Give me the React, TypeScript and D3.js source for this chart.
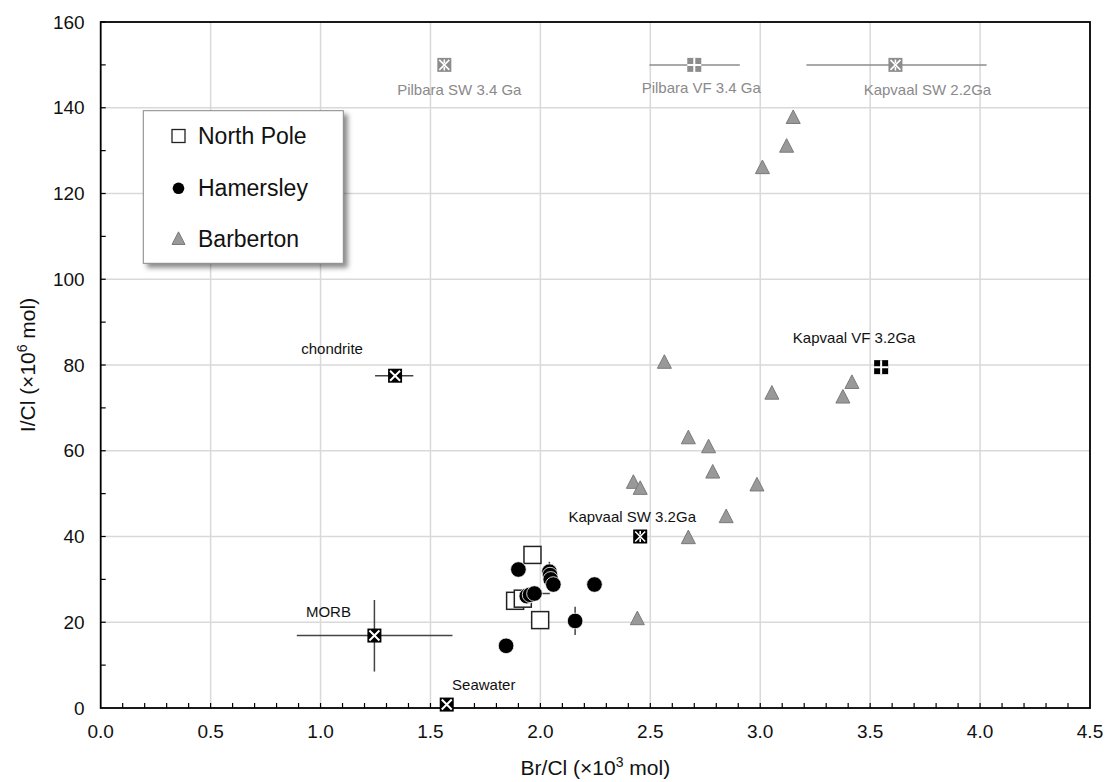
import React from "react";
import * as d3 from "d3";

// ---- Data ----
const northPoleX = [1.964, 1.885, 1.92, 1.999];
const northPoleY = [35.7, 25.0, 25.5, 20.5];

const hamersleyX = [1.9, 2.041, 2.044, 2.047, 2.059, 2.246, 1.938, 1.953, 1.973, 2.158, 1.844];
const hamersleyY = [32.3, 31.8, 31.0, 30.0, 28.8, 28.8, 26.1, 26.4, 26.7, 20.3, 14.5];
const hamersleyXErr = [0, 0, 0, 0, 0, 0, 0, 0, 0.07, 0, 0];
const hamersleyYErr = [0, 2.3, 0, 0, 0, 0, 0, 0, 0, 3.3, 0];

const barbertonX = [3.15, 3.12, 3.01, 2.564, 3.053, 3.417, 3.376, 2.673, 2.765, 2.784, 2.985, 2.423, 2.454, 2.845, 2.673, 2.441];
const barbertonY = [137.7, 131.0, 126.0, 80.6, 73.4, 75.9, 72.5, 63.0, 60.9, 55.0, 52.0, 52.6, 51.2, 44.6, 39.7, 20.8];

const refNames = ["Seawater", "MORB", "chondrite", "Kapvaal SW 3.2Ga", "Kapvaal VF 3.2Ga", "Pilbara SW 3.4 Ga", "Pilbara VF 3.4 Ga", "Kapvaal SW 2.2Ga"];
const refX = [1.574, 1.245, 1.339, 2.454, 3.55, 1.563, 2.7, 3.615];
const refY = [0.8, 16.9, 77.5, 40.0, 79.5, 150, 150, 150];
const refXLo = [null, 0.892, 1.248, null, null, null, 2.496, 3.21];
const refXHi = [null, 1.6, 1.422, null, null, null, 2.907, 4.03];
const refYLo = [null, 8.5, null, null, null, null, null, null];
const refYHi = [null, 25.2, null, null, null, null, null, null];
const refShape = ["x", "x", "x", "star", "grid", "star", "grid", "star"];
const refGray = [false, false, false, false, false, true, true, true];

const xTicks = [0, 0.5, 1.0, 1.5, 2.0, 2.5, 3.0, 3.5, 4.0, 4.5];
const yTicks = [0, 20, 40, 60, 80, 100, 120, 140, 160];
const legendItems = ["North Pole", "Hamersley", "Barberton"];

// ---- Layout (styles) ----
const W = 1109, H = 782;
const M = { left: 100.7, right: 1090, top: 22, bottom: 708 };
const labelOffsets: [number, number][] = [
  [37, -20], [-46, -24], [-63, -27], [-8, -20], [-27, -30], [15, 25], [7, 23], [32, 25],
];

const FONT = "'Liberation Sans', Arial, Helvetica, sans-serif";

export default function App() {
  const x = d3.scaleLinear().domain([0, 4.5]).range([M.left, M.right]);
  const y = d3.scaleLinear().domain([0, 160]).range([M.bottom, M.top]);

  const minorX = d3.range(0, 45).map((i) => i / 10);
  const minorY = d3.range(0, 17).map((i) => i * 10);

  const tri = (cx: number, cy: number, s: number) =>
    `M${cx},${cy - s * 0.55} L${cx + s / 2},${cy + s * 0.42} L${cx - s / 2},${cy + s * 0.42} Z`;

  const refMarker = (i: number) => {
    const cx = x(refX[i]);
    const cy = y(refY[i]);
    const s = 14;
    const h = s / 2;
    const fill = refGray[i] ? "#8c8c8c" : "#000";
    const shape = refShape[i];
    return (
      <g key={"rm" + i}>
        <rect x={cx - h} y={cy - h} width={s} height={s} fill={fill} />
        {shape === "x" && (
          <path d={`M${cx - h + 2},${cy - h + 2} L${cx + h - 2},${cy + h - 2} M${cx + h - 2},${cy - h + 2} L${cx - h + 2},${cy + h - 2}`} stroke="#fff" strokeWidth={2} />
        )}
        {shape === "star" && (
          <g stroke="#fff" strokeWidth={1.6}>
            <path d={`M${cx - h + 2},${cy - h + 2} L${cx + h - 2},${cy + h - 2} M${cx + h - 2},${cy - h + 2} L${cx - h + 2},${cy + h - 2}`} />
            <path d={`M${cx},${cy - h + 1.5} L${cx},${cy - 2} M${cx},${cy + 2} L${cx},${cy + h - 1.5}`} />
          </g>
        )}
        {shape === "grid" && (
          <path d={`M${cx},${cy - h} L${cx},${cy + h} M${cx - h},${cy} L${cx + h},${cy}`} stroke="#fff" strokeWidth={2} />
        )}
      </g>
    );
  };

  return (
    <svg width={W} height={H} style={{ display: "block", position: "absolute", left: 0, top: 0 }} fontFamily={FONT}>
      <defs>
        <filter id="shadow" x="-10%" y="-10%" width="130%" height="130%">
          <feDropShadow dx="4" dy="4" stdDeviation="2.5" floodColor="#000" floodOpacity="0.45" />
        </filter>
      </defs>
      <rect x={0} y={0} width={W} height={H} fill="#fff" />

      {/* gridlines */}
      <g stroke="#d9d9d9" strokeWidth={1.5}>
        {xTicks.slice(1, -1).map((t) => (
          <line key={"gx" + t} x1={x(t)} x2={x(t)} y1={M.top} y2={M.bottom} />
        ))}
        {yTicks.slice(1, -1).map((t) => (
          <line key={"gy" + t} x1={M.left} x2={M.right} y1={y(t)} y2={y(t)} />
        ))}
      </g>

      {/* minor ticks */}
      <g stroke="#000" strokeWidth={1.2}>
        {minorX.slice(1).map((t) => (
          <line key={"mx" + t} x1={x(t)} x2={x(t)} y1={M.bottom} y2={M.bottom - 5} />
        ))}
        {minorY.slice(1).map((t) => (
          <line key={"my" + t} x1={M.left} x2={M.left + 5} y1={y(t)} y2={y(t)} />
        ))}
      </g>

      {/* frame */}
      <rect x={M.left} y={M.top} width={M.right - M.left} height={M.bottom - M.top} fill="none" stroke="#000" strokeWidth={1.8} />

      {/* tick labels */}
      <g fontSize={19} fill="#111">
        {xTicks.map((t) => (
          <text key={"tx" + t} x={x(t)} y={M.bottom + 30} textAnchor="middle">
            {t.toFixed(1)}
          </text>
        ))}
        {yTicks.map((t) => (
          <text key={"ty" + t} x={M.left - 16} y={y(t)} textAnchor="end" dominantBaseline="central">
            {t}
          </text>
        ))}
      </g>

      {/* axis titles */}
      <text x={(M.left + M.right) / 2} y={775} textAnchor="middle" fontSize={21} fill="#111">
        Br/Cl (×10<tspan dy={-8} fontSize={14}>3</tspan>
        <tspan dy={8}> mol)</tspan>
      </text>
      <text transform={`translate(35,${(M.top + M.bottom) / 2}) rotate(-90)`} textAnchor="middle" fontSize={21} fill="#111">
        I/Cl (×10<tspan dy={-8} fontSize={14}>6</tspan>
        <tspan dy={8}> mol)</tspan>
      </text>

      {/* reference error bars */}
      {refNames.map((n, i) => {
        const col = refGray[i] ? "#8c8c8c" : "#444";
        return (
          <g key={"re" + i} stroke={col} strokeWidth={1.5}>
            {refXLo[i] != null && (
              <line x1={x(refXLo[i] as number)} x2={x(refXHi[i] as number)} y1={y(refY[i])} y2={y(refY[i])} />
            )}
            {refYLo[i] != null && (
              <line x1={x(refX[i])} x2={x(refX[i])} y1={y(refYLo[i] as number)} y2={y(refYHi[i] as number)} />
            )}
          </g>
        );
      })}

      {/* Barberton */}
      <g fill="#999" stroke="#7a7a7a" strokeWidth={1}>
        {barbertonX.map((v, i) => (
          <path key={"b" + i} d={tri(x(v), y(barbertonY[i]), 14)} />
        ))}
      </g>

      {/* North Pole */}
      <g fill="#fff" stroke="#222" strokeWidth={1.5}>
        {northPoleX.map((v, i) => (
          <rect key={"np" + i} x={x(v) - 8.5} y={y(northPoleY[i]) - 8.5} width={17} height={17} />
        ))}
      </g>

      {/* Hamersley error bars + points */}
      <g stroke="#444" strokeWidth={1.5}>
        {hamersleyX.map((v, i) => (
          <g key={"he" + i}>
            {hamersleyXErr[i] > 0 && (
              <line x1={x(v - hamersleyXErr[i])} x2={x(v + hamersleyXErr[i])} y1={y(hamersleyY[i])} y2={y(hamersleyY[i])} />
            )}
            {hamersleyYErr[i] > 0 && (
              <line x1={x(v)} x2={x(v)} y1={y(hamersleyY[i] - hamersleyYErr[i])} y2={y(hamersleyY[i] + hamersleyYErr[i])} />
            )}
          </g>
        ))}
      </g>
      <g fill="#000" stroke="#fff" strokeWidth={0.8}>
        {hamersleyX.map((v, i) => (
          <circle key={"h" + i} cx={x(v)} cy={y(hamersleyY[i])} r={7.8} />
        ))}
      </g>

      {/* reference markers */}
      {refNames.map((n, i) => refMarker(i))}

      {/* reference labels */}
      <g fontSize={15}>
        {refNames.map((n, i) => (
          <text
            key={"rl" + i}
            x={x(refX[i]) + labelOffsets[i][0]}
            y={y(refY[i]) + labelOffsets[i][1]}
            textAnchor="middle"
            dominantBaseline="central"
            fill={refGray[i] ? "#8a8a8a" : "#111"}
          >
            {n}
          </text>
        ))}
      </g>

      {/* legend */}
      <g>
        <rect x={143.3} y={110.7} width={200} height={152.6} fill="#fff" stroke="#888" strokeWidth={1} filter="url(#shadow)" />
        <rect x={172} y={129.5} width={13} height={13} fill="#fff" stroke="#222" strokeWidth={1.3} />
        <circle cx={178.5} cy={188.3} r={5.8} fill="#000" />
        <path d={tri(178.5, 239, 13)} fill="#999" stroke="#7a7a7a" strokeWidth={1} />
        {legendItems.map((t, i) => (
          <text key={"lg" + i} x={198} y={136 + i * 51.5} dominantBaseline="central" fontSize={23} fill="#111">
            {t}
          </text>
        ))}
      </g>
    </svg>
  );
}
